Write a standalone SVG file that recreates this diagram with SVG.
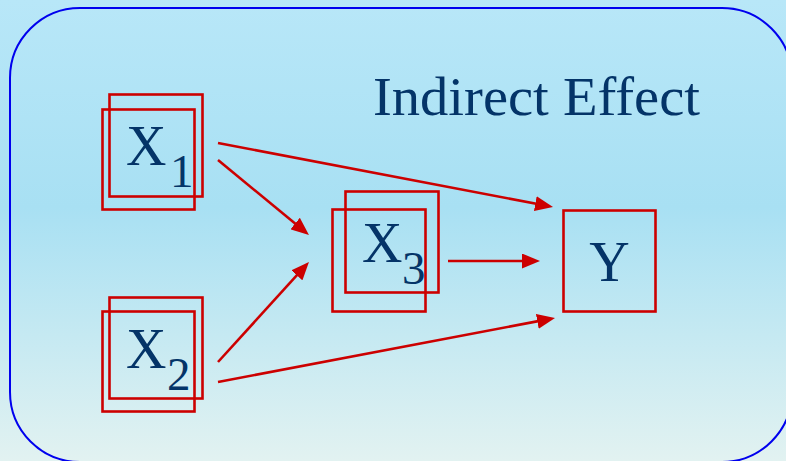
<svg xmlns="http://www.w3.org/2000/svg" width="786" height="461" viewBox="0 0 786 461">
  <defs>
    <linearGradient id="bg" x1="0" y1="0" x2="0" y2="1">
      <stop offset="0" stop-color="#B8E7F8"/>
      <stop offset="0.45" stop-color="#A8E0F3"/>
      <stop offset="1" stop-color="#E2F2F1"/>
    </linearGradient>
    <marker id="arr" markerUnits="userSpaceOnUse" markerWidth="18" markerHeight="15" refX="13" refY="7.5" orient="auto">
      <path d="M0,0 L18,7.5 L0,15 z" fill="#CC0000"/>
    </marker>
    <style>
      .box { fill: none; stroke: #CC0000; stroke-width: 2.6; }
      .lbl { font-family: "Liberation Serif", "Times New Roman", serif; fill: #043468; }
      .main { font-size: 56px; }
      .sub { font-size: 47px; }
      .edge { fill: none; stroke: #CC0000; stroke-width: 2.6; marker-end: url(#arr); }
    </style>
  </defs>
  <rect x="0" y="0" width="786" height="461" fill="url(#bg)"/>
  <rect x="10" y="8" width="782" height="454" rx="70" ry="70" fill="none" stroke="#0000EE" stroke-width="2"/>
  <text class="lbl" x="373" y="115" font-size="55" textLength="327" lengthAdjust="spacingAndGlyphs">Indirect Effect</text>

  <g id="x1">
    <rect class="box" x="109.5" y="94.5" width="93" height="102"/>
    <rect class="box" x="102.5" y="109.5" width="92" height="100"/>
    <text class="lbl main" x="126" y="165">X</text>
    <text class="lbl sub" x="170" y="187">1</text>
  </g>
  <g id="x2">
    <rect class="box" x="109.5" y="297.5" width="93" height="101"/>
    <rect class="box" x="102.5" y="311.5" width="92" height="100"/>
    <text class="lbl main" x="126" y="368">X</text>
    <text class="lbl sub" x="167" y="390">2</text>
  </g>
  <g id="x3">
    <rect class="box" x="345.5" y="191.5" width="93" height="101"/>
    <rect class="box" x="332.5" y="209.5" width="93" height="102"/>
    <text class="lbl main" x="362" y="262">X</text>
    <text class="lbl sub" x="402" y="284">3</text>
  </g>
  <g id="y">
    <rect class="box" x="563.5" y="210.5" width="92" height="101"/>
    <text class="lbl main" x="609.5" y="281" text-anchor="middle">Y</text>
  </g>

  <g id="connectors">
    <path class="edge" d="M218,143 L548.1,206"/>
    <path class="edge" d="M218,160 L305.1,231.8"/>
    <path class="edge" d="M218,362 L305.6,265.7"/>
    <path class="edge" d="M218,382 L550.1,318.9"/>
    <path class="edge" d="M448,261 L535,261"/>
  </g>
</svg>
